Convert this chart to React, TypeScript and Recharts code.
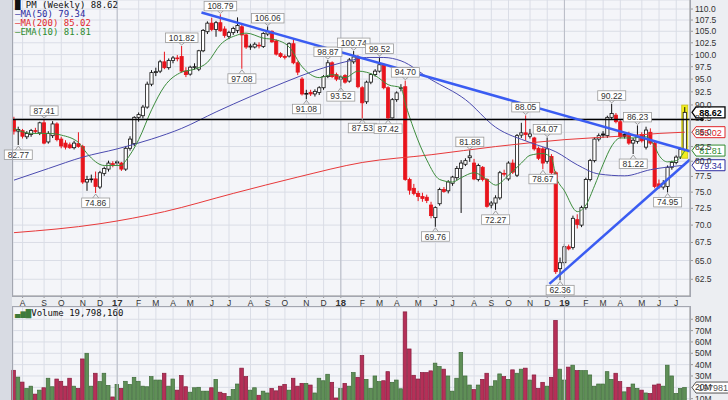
import React from "react";
import {
  ComposedChart,
  Bar,
  Line,
  Scatter,
  XAxis,
  YAxis,
  CartesianGrid,
  ReferenceLine,
} from "recharts";

// weekly candles, Jul 2016 -> Jul 2019: [open, high, low, close]
const candles: [number, number, number, number][] = [
  [87.3, 87.8, 84.6, 85.2], [85.2, 86.0, 82.77, 85.5], [85.3, 85.6, 83.9, 84.3], [84.2, 85.2, 83.8, 84.8],
  [84.6, 85.6, 84.2, 85.3], [85.3, 85.8, 84.8, 85.2], [84.9, 86.9, 84.5, 86.7], [86.7, 87.41, 82.9, 83.1],
  [83.3, 85.2, 83.0, 84.8], [84.4, 87.0, 84.0, 86.5], [86.5, 86.8, 83.4, 83.7], [83.8, 84.2, 82.2, 82.6],
  [83.1, 83.6, 82.0, 82.4], [82.8, 83.2, 82.1, 82.3], [82.3, 83.5, 82.0, 83.1], [83.0, 85.0, 82.3, 82.5],
  [82.5, 82.8, 76.3, 76.6], [76.6, 77.6, 75.2, 77.0], [77.0, 77.8, 76.5, 77.1], [77.1, 78.3, 74.86, 75.9],
  [75.8, 78.4, 75.5, 78.1], [78.0, 79.1, 77.6, 78.8], [78.7, 80.1, 78.3, 79.7], [79.6, 80.0, 79.0, 79.5],
  [79.9, 80.2, 79.3, 79.7], [79.7, 79.9, 78.4, 78.7], [78.7, 82.6, 78.4, 82.2], [82.2, 84.3, 81.8, 83.8],
  [83.0, 87.9, 82.6, 87.7], [87.7, 88.6, 86.9, 88.2], [88.0, 90.0, 87.5, 89.6], [89.6, 94.5, 89.3, 94.0],
  [94.0, 96.8, 93.6, 96.3], [96.3, 97.3, 95.6, 96.5], [96.6, 98.9, 96.2, 98.5], [98.5, 100.6, 97.0, 97.3],
  [97.3, 99.2, 96.9, 98.8], [98.8, 99.7, 98.2, 99.3], [99.3, 99.9, 98.6, 99.2], [99.6, 101.82, 96.3, 96.6],
  [96.6, 97.4, 95.4, 95.9], [96.0, 97.7, 95.7, 97.4], [97.4, 98.2, 96.9, 97.5], [97.0, 101.0, 96.6, 100.8],
  [100.8, 105.5, 100.5, 105.2], [104.9, 107.2, 104.4, 106.8], [106.8, 108.0, 105.0, 105.4], [105.4, 107.3, 103.8, 106.9],
  [106.9, 108.79, 104.9, 105.1], [105.5, 106.1, 103.6, 104.1], [103.9, 105.1, 103.3, 104.7], [104.7, 106.0, 104.2, 105.6],
  [105.2, 108.1, 104.6, 106.3], [106.0, 106.8, 97.08, 104.2], [104.2, 104.5, 101.2, 101.6], [101.6, 102.3, 101.0, 101.8],
  [101.6, 102.6, 101.3, 102.2], [102.0, 102.6, 101.3, 101.9], [101.7, 104.8, 101.4, 104.5], [104.4, 106.06, 104.0, 105.0],
  [105.0, 105.2, 102.5, 102.7], [102.9, 103.2, 99.8, 100.1], [100.2, 100.5, 99.3, 99.6], [99.6, 100.0, 99.0, 99.5],
  [99.7, 102.6, 99.4, 102.3], [102.3, 103.4, 98.0, 98.3], [98.3, 98.6, 95.8, 96.4], [95.0, 95.4, 91.8, 92.1],
  [92.1, 92.9, 91.08, 92.2], [92.4, 92.9, 91.7, 92.1], [92.1, 93.0, 91.6, 92.6], [92.4, 93.6, 91.9, 93.3],
  [93.3, 95.8, 92.9, 95.5], [95.5, 98.87, 95.2, 98.3], [98.3, 98.6, 95.2, 95.5], [95.9, 96.3, 94.6, 95.0],
  [95.0, 95.8, 93.52, 95.4], [95.7, 96.0, 94.1, 94.4], [94.6, 99.3, 94.3, 98.9], [98.5, 100.74, 98.1, 99.5],
  [99.5, 99.9, 93.2, 93.5], [93.3, 93.6, 87.53, 90.4], [90.6, 94.7, 90.2, 94.4], [94.4, 96.2, 94.0, 95.9],
  [95.9, 97.0, 95.5, 96.6], [96.6, 99.52, 96.3, 97.9], [97.9, 98.2, 93.0, 93.3], [93.3, 93.6, 87.42, 87.6],
  [87.6, 91.3, 87.5, 91.0], [91.0, 92.6, 90.6, 92.3], [93.2, 94.0, 92.6, 93.3], [93.5, 94.7, 76.8, 77.0],
  [77.0, 77.3, 74.6, 75.3], [75.6, 76.3, 74.5, 74.8], [74.8, 75.2, 73.6, 74.3], [74.3, 74.9, 73.5, 74.0],
  [74.2, 74.6, 73.3, 73.7], [73.0, 73.5, 71.0, 71.4], [71.1, 72.8, 69.76, 72.6], [73.2, 75.7, 72.9, 75.4],
  [75.4, 75.8, 74.9, 75.1], [75.2, 76.9, 74.8, 76.6], [76.4, 77.6, 76.0, 77.4], [77.3, 79.2, 76.9, 78.8],
  [78.8, 80.2, 71.8, 79.7], [79.5, 80.5, 79.2, 80.1], [80.6, 81.88, 79.9, 80.9], [79.7, 80.4, 76.9, 77.1],
  [77.0, 79.6, 76.7, 79.3], [79.0, 79.2, 76.7, 77.0], [77.0, 77.2, 72.6, 72.8], [73.0, 73.6, 72.5, 73.3],
  [73.3, 74.5, 72.27, 74.1], [74.1, 78.4, 73.8, 78.1], [78.0, 78.6, 77.5, 77.9], [77.1, 80.0, 76.8, 79.7],
  [79.7, 80.3, 77.9, 78.2], [77.7, 84.7, 77.4, 84.4], [84.5, 86.7, 84.0, 84.9], [84.9, 88.05, 83.5, 84.6],
  [84.3, 85.6, 83.9, 84.7], [84.0, 84.2, 81.8, 82.1], [82.2, 82.5, 80.2, 80.5], [82.1, 82.4, 78.67, 79.7],
  [80.0, 84.07, 79.6, 82.1], [80.8, 81.2, 77.7, 78.1], [78.1, 78.4, 63.2, 63.5], [63.9, 65.4, 62.36, 64.7],
  [64.7, 67.3, 64.3, 66.9], [66.9, 67.2, 66.4, 66.6], [66.8, 71.4, 66.5, 71.0], [70.8, 71.6, 69.5, 70.1],
  [70.0, 72.9, 69.7, 72.6], [72.6, 77.3, 72.3, 77.0], [77.0, 80.4, 76.7, 80.1], [80.1, 84.1, 79.8, 83.8],
  [83.8, 84.8, 83.4, 84.4], [84.7, 85.2, 84.0, 84.5], [84.4, 88.0, 84.0, 87.7], [87.7, 90.22, 87.3, 88.4],
  [88.1, 88.5, 86.6, 86.9], [86.9, 87.2, 83.9, 84.2], [84.6, 85.0, 83.9, 84.3], [84.8, 85.1, 82.8, 83.1],
  [83.1, 84.0, 81.22, 83.6], [83.4, 86.23, 83.0, 84.2], [84.6, 85.0, 83.2, 83.5], [82.4, 86.0, 82.0, 85.4],
  [85.0, 85.7, 82.8, 83.1], [83.1, 83.4, 75.6, 75.9], [76.3, 77.0, 75.5, 75.8], [75.8, 76.9, 75.4, 76.4],
  [75.9, 79.3, 74.95, 79.0], [79.0, 80.1, 78.6, 79.8], [79.8, 81.0, 79.5, 80.7], [80.7, 82.3, 80.4, 82.0],
  [82.0, 89.6, 81.7, 88.62],
];

// weekly volume, millions of shares
const volumes = [
  35, 29, 24.6, 19, 21, 14, 17.5, 19.6, 28, 20.5, 27.3, 25.3, 21, 28, 21, 19, 45, 50, 21, 32.4,
  25, 32.4, 21.7, 11.5, 22.6, 19, 25.3, 22.6, 28.8, 25.3, 21, 20.5, 29.4, 26.4, 26.4, 32.4, 21, 27.3, 17.5, 30.3,
  20.5, 15.7, 19.6, 20, 16.6, 16.6, 19.6, 27, 15.7, 14.5, 12, 18, 22.9, 36.9, 29.4, 17.5, 19.6, 13, 16.6, 15,
  19, 16.9, 21, 22.6, 17.5, 28, 21, 23.5, 23.5, 22, 15, 28, 25.8, 31.5, 24.4, 10.6, 19, 23.5, 21, 33,
  28.8, 48, 27, 19, 30, 25, 25.8, 33.8, 24.4, 26.4, 18.7, 86.5, 53.8, 30.6, 27.3, 33, 33, 34.5, 41.3, 38.3,
  36, 30, 16.6, 28, 50.8, 30, 22, 18, 22, 27, 32.4, 21, 25.8, 31.8, 29.4, 27, 35.4, 32.4, 36, 36.9,
  26.4, 30.9, 19, 24.4, 21, 28.8, 79, 36, 26.4, 37.8, 39.5, 34.7, 34.7, 34.7, 30.9, 21, 22.9, 22.9, 33.8, 27,
  32.4, 25, 16, 20, 22.9, 19, 17.5, 15, 14.5, 22, 22.9, 21, 39.5, 30, 14.5, 19, 19.8,
];

// indicator lines, sampled off the chart: [week, value]
const ma50: [number, number][] = [
  [0, 76.9], [8, 78.8], [16, 80.7], [24, 82.1], [32, 83.8], [39, 85.7], [47, 88.7], [55, 91.6], [63, 94.4],
  [70, 96.7], [78, 98.7], [82, 99.4], [86, 99.4], [90, 98.7], [97, 94.9], [105, 91], [112, 85.9], [120, 83.2],
  [126, 81.6], [131, 79.4], [136, 77.9], [142, 77.6], [148, 78.6], [156, 79.34],
];
const ma200: [number, number][] = [
  [0, 68.9], [20, 70.2], [35, 72], [51, 74.8], [66, 77.4], [81, 79.8], [97, 81.1], [112, 82.5], [128, 83.7],
  [143, 84.4], [150, 84.8], [156, 85.02],
];
const ema10: [number, number][] = [
  [0, 85.7], [4, 84.8], [8, 84.8], [11, 84.5], [15, 83.2], [17, 81.3], [21, 79.3], [25, 79.3], [26, 80.1],
  [29, 83.7], [32, 89.1], [35, 93.6], [39, 96.4], [42, 97], [45, 98.4], [48, 102.1], [52, 104.2], [54, 104.6],
  [58, 103.5], [61, 103.1], [64, 101.6], [67, 97.5], [71, 95.3], [74, 95.9], [77, 95.3], [80, 96.6], [84, 95.7],
  [87, 93.9], [90, 93.3], [91, 90.3], [93, 85.5], [96, 80.2], [99, 77], [102, 76.6], [104, 77.3], [107, 78.1],
  [110, 77], [112, 76.1], [115, 77.7], [118, 79.7], [120, 81], [123, 81.3], [125, 80.5], [126, 77.6], [128, 75.2],
  [131, 72.0], [133, 73.0], [135, 76.0], [137, 79.5], [139, 82.6], [141, 84], [144, 84], [147, 84.2], [149, 82.5],
  [150, 81.0], [152, 79.9], [154, 80.1], [156, 81.81],
];
const downTrend: [number, number][] = [[43.6, 109.2], [157.2, 81.7]];
const upTrend: [number, number][] = [[124.5, 61.9], [157.2, 80.3]];
const resistance = 87.3;

// swing high / low markers: [week, price, kind]
const pivots: [number, number, "h" | "l"][] = [
  [1, 82.77, "l"], [7, 87.41, "h"], [19, 74.86, "l"], [39, 101.82, "h"], [48, 108.79, "h"], [53, 97.08, "l"],
  [59, 106.06, "h"], [68, 91.08, "l"], [73, 98.87, "h"], [76, 93.52, "l"], [79, 100.74, "h"], [81, 87.53, "l"],
  [85, 99.52, "h"], [87, 87.42, "l"], [91, 94.7, "h"], [98, 69.76, "l"], [106, 81.88, "h"], [112, 72.27, "l"],
  [119, 88.05, "h"], [123, 78.67, "l"], [124, 84.07, "h"], [127, 62.36, "l"], [139, 90.22, "h"], [144, 81.22, "l"],
  [145, 86.23, "h"], [152, 74.95, "l"],
];

const monthWeeks = [2, 7, 11, 16, 20, 24, 29, 33, 37, 41, 46, 50, 55, 59, 63, 68, 72, 76, 81, 85, 89, 94, 98, 102,
  107, 111, 115, 120, 124, 128, 133, 137, 141, 146, 150, 154];
const monthLabels = ["A", "S", "O", "N", "D", "17", "F", "M", "A", "M", "J", "J", "A", "S", "O", "N", "D", "18",
  "F", "M", "A", "M", "J", "J", "A", "S", "O", "N", "D", "19", "F", "M", "A", "M", "J", "J"];
const yearWeeks = [24, 76, 128];

const priceTicks = [62.5, 65, 67.5, 70, 72.5, 75, 77.5, 80, 82.5, 85, 87.5, 90, 92.5, 95, 97.5, 100, 102.5, 105, 107.5, 110];
const volumeTicks = [10, 20, 30, 40, 50, 60, 70, 80];
const lastVolume = 19798160;

const LAST = candles.length - 1;
const lastClose = candles[LAST][3];
const ma50Last = ma50[ma50.length - 1][1];
const ma200Last = ma200[ma200.length - 1][1];
const emaLast = ema10[ema10.length - 1][1];

const priceRows = candles.map(([o, h, l, c], i) => ({
  i, o, h, l, c,
  prev: i > 0 ? candles[i - 1][3] : o,
  range: [l, h],
}));
const volRows = volumes.map((v, i) => ({ i, vol: v, up: priceRows[i].c >= priceRows[i].prev }));
const pts = (a: [number, number][]) => a.map(([i, v]) => ({ i, v }));
const pivotRows = pivots.map(([i, v, k]) => ({ i, v, k }));

const FONT = "'Liberation Sans', Arial, sans-serif";
const MONO = "'DejaVu Sans Mono', monospace";
const X_DOMAIN: [number, number] = [-0.23, 157.2];

function Candle(props: any) {
  const { x, y, width, height, payload } = props;
  if (!payload || x == null || y == null) return null;
  const { o, h, l, c, prev, i } = payload;
  const cx = x + width / 2;
  const top = Math.min(y, y + height);
  const span = Math.abs(height);
  const lh = Math.log(h);
  const ll = Math.log(l);
  const py = (p: number) => (lh === ll ? top : top + ((lh - Math.log(p)) / (lh - ll)) * span);
  const col = c >= prev ? "#111" : "#e8141c";
  const hollow = c >= o;
  const bTop = py(Math.max(o, c));
  const bBot = py(Math.min(o, c));
  return (
    <g>
      {i === LAST && (
        <rect x={cx - 3} y={top - 2} width={6} height={span + 9} fill="#f2ee1e" stroke="#c9c018" strokeWidth={0.8} />
      )}
      <line x1={cx} x2={cx} y1={top} y2={top + span} stroke={col} strokeWidth={1} />
      <rect
        x={cx - 1.6}
        y={bTop}
        width={3.2}
        height={Math.max(bBot - bTop, 0.8)}
        fill={hollow ? "#fff" : col}
        stroke={col}
        strokeWidth={0.8}
      />
    </g>
  );
}

function PivotTag(props: any) {
  const { cx, cy, payload } = props;
  if (cx == null || cy == null) return null;
  const txt = payload.v.toFixed(2);
  const w = txt.length * 4.6 + 5;
  const above = payload.k === "h";
  const by = above ? cy - 13 : cy + 5;
  const tipY = above ? cy - 1 : cy + 1;
  const baseY = above ? by + 9.5 : by;
  return (
    <g>
      <polyline
        points={`${cx - 3},${baseY} ${cx},${tipY} ${cx + 3},${baseY}`}
        fill="none"
        stroke="#8a8a8a"
        strokeWidth={0.8}
      />
      <rect x={cx - w / 2} y={by} width={w} height={9.5} fill="#fff" stroke="#9a9a9a" strokeWidth={0.8} />
      <text x={cx} y={by + 7.8} textAnchor="middle" fontSize={8.5} fontFamily={FONT} fill="#333">
        {txt}
      </text>
    </g>
  );
}

function ValueTag(props: any) {
  const { viewBox, text, color, bold, dot } = props;
  if (!viewBox) return null;
  const x = viewBox.x + viewBox.width + 2;
  const y = viewBox.y;
  const w = text ? Math.max(33, text.length * 5 + 8) : 0;
  return (
    <g>
      {dot && (
        <>
          <line x1={viewBox.x + viewBox.width} x2={viewBox.x + viewBox.width + 12} y1={y} y2={y} stroke="#000" strokeWidth={1.5} />
          <circle cx={viewBox.x + viewBox.width + 12} cy={y} r={1.8} fill="#000" />
        </>
      )}
      {text && (
        <>
          <polygon
            points={`${x},${y} ${x + 4},${y - 5.5} ${x + w},${y - 5.5} ${x + w},${y + 5.5} ${x + 4},${y + 5.5}`}
            fill="#fff"
            stroke={color}
            strokeWidth={bold ? 1.3 : 1}
          />
          <text x={x + 4 + (w - 4) / 2} y={y + 3.5} textAnchor="middle" fontSize={9} fontWeight={bold ? 700 : 400} fontFamily={FONT} fill={color}>
            {text}
          </text>
        </>
      )}
    </g>
  );
}

function MonthTick(props: any) {
  const { x, y, payload } = props;
  const idx = monthWeeks.indexOf(payload.value);
  const label = monthLabels[idx] ?? "";
  const isYear = /\d/.test(label);
  return (
    <text x={x} y={y + 6} textAnchor="middle" fontSize={isYear ? 9.5 : 8.5} fontWeight={isYear ? 700 : 400} fontFamily={FONT} fill="#333">
      {label}
    </text>
  );
}

function VolBar(props: any) {
  const { x, y, width, height, payload } = props;
  if (x == null || !payload) return null;
  const up = payload.up;
  return (
    <rect
      x={x}
      y={y}
      width={width}
      height={Math.max(height, 0)}
      fill={up ? "#5f8f57" : "#b53058"}
      stroke={up ? "#3f6b3a" : "#861c3c"}
      strokeWidth={0.7}
    />
  );
}

export default function App() {
  const legendLine = (color: string, text: string, top: number) => (
    <div style={{ position: "absolute", left: 15, top, color, fontFamily: MONO, fontSize: 9, lineHeight: "9px", whiteSpace: "pre" }}>
      {"\u2014" + text}
    </div>
  );
  return (
    <div style={{ position: "absolute", left: 0, top: 0, width: 728, height: 400, overflow: "hidden", background: "#eceef2" }}>
      <div style={{ position: "absolute", left: 0, top: 0, width: 12, height: 400, background: "#d8dbe3" }} />

      <div style={{ position: "absolute", left: 0, top: 0 }}>
        <ComposedChart width={728} height={312} data={priceRows} margin={{ top: 0, right: 0, bottom: 0, left: 13 }}>
          <CartesianGrid stroke="#dadde6" fill="#f4f5f9" strokeWidth={1} />
          <XAxis
            dataKey="i"
            type="number"
            domain={X_DOMAIN}
            ticks={monthWeeks}
            interval={0}
            height={16}
            tick={<MonthTick />}
            tickSize={2}
            stroke="#999"
          />
          <YAxis
            orientation="right"
            scale="log"
            domain={[60.35, 112.1]}
            ticks={priceTicks}
            interval={0}
            width={38}
            tickSize={3}
            tickFormatter={(v: number) => v.toFixed(1)}
            tick={{ fontSize: 8.5, fill: "#333", fontFamily: FONT }}
            stroke="#999"
          />
          {yearWeeks.map((w) => (
            <ReferenceLine key={w} x={w} stroke="#b9bcc6" strokeWidth={1} />
          ))}
          <Line data={pts(ma200)} dataKey="v" type="monotone" stroke="#e8393a" strokeWidth={1} dot={false} isAnimationActive={false} />
          <Line data={pts(ma50)} dataKey="v" type="monotone" stroke="#4b4bb0" strokeWidth={1} dot={false} isAnimationActive={false} />
          <Line data={pts(ema10)} dataKey="v" type="monotone" stroke="#3c8c3c" strokeWidth={1} dot={false} isAnimationActive={false} />
          <ReferenceLine y={resistance} stroke="#000" strokeWidth={1.5} label={<ValueTag dot />} />
          <Bar dataKey="range" barSize={4} shape={<Candle />} isAnimationActive={false} />
          <Line data={pts(downTrend)} dataKey="v" type="linear" stroke="#3a5cf2" strokeWidth={2.5} dot={false} isAnimationActive={false} />
          <Line data={pts(upTrend)} dataKey="v" type="linear" stroke="#3a5cf2" strokeWidth={2.5} dot={false} isAnimationActive={false} />
          <Scatter data={pivotRows} dataKey="v" shape={<PivotTag />} isAnimationActive={false} />
          <ReferenceLine y={ma200Last} stroke="none" label={<ValueTag text={ma200Last.toFixed(2)} color="#e0262a" />} />
          <ReferenceLine y={emaLast} stroke="none" label={<ValueTag text={emaLast.toFixed(2)} color="#2e8b2e" />} />
          <ReferenceLine y={ma50Last} stroke="none" label={<ValueTag text={ma50Last.toFixed(2)} color="#2c2ca0" />} />
          <ReferenceLine y={lastClose} stroke="none" label={<ValueTag text={lastClose.toFixed(2)} color="#000" bold />} />
        </ComposedChart>
      </div>

      <div style={{ position: "absolute", left: 0, top: 307 }}>
        <ComposedChart width={728} height={103} data={volRows} margin={{ top: 0, right: 0, bottom: 0, left: 13 }}>
          <CartesianGrid stroke="#dadde6" fill="#f4f5f9" strokeWidth={1} />
          <XAxis dataKey="i" type="number" domain={X_DOMAIN} ticks={monthWeeks} interval={0} hide />
          <YAxis
            orientation="right"
            domain={[0, 90.8]}
            ticks={volumeTicks}
            interval={0}
            width={38}
            tickSize={3}
            tickFormatter={(v: number) => `${v}M`}
            tick={{ fontSize: 8.5, fill: "#333", fontFamily: FONT }}
            stroke="#999"
          />
          {yearWeeks.map((w) => (
            <ReferenceLine key={w} x={w} stroke="#b9bcc6" strokeWidth={1} />
          ))}
          <Bar dataKey="vol" barSize={3.6} shape={<VolBar />} isAnimationActive={false} />
          <ReferenceLine y={lastVolume / 1e6} stroke="none" label={<ValueTag text={String(lastVolume)} color="#555" />} />
        </ComposedChart>
      </div>

      {/* panel borders */}
      <div style={{ position: "absolute", left: 12, top: -1, width: 677, height: 296, border: "1px solid #a3a6b0", pointerEvents: "none" }} />
      <div style={{ position: "absolute", left: 12, top: 306, width: 677, height: 110, border: "1px solid #a3a6b0", pointerEvents: "none" }} />

      {/* legends */}
      <div style={{ position: "absolute", left: 15, top: 1, fontFamily: MONO, fontSize: 9, lineHeight: "9px", color: "#111", whiteSpace: "pre" }}>
        {"\u2588 PM (Weekly) " + lastClose.toFixed(2)}
      </div>
      {legendLine("#2c2ca0", `MA(50) ${ma50Last.toFixed(2)}`, 10)}
      {legendLine("#e0262a", `MA(200) ${ma200Last.toFixed(2)}`, 19)}
      {legendLine("#2e8b2e", `EMA(10) ${emaLast.toFixed(2)}`, 28)}
      <div style={{ position: "absolute", left: 15, top: 309, fontFamily: MONO, fontSize: 9, lineHeight: "9px", color: "#111", whiteSpace: "pre" }}>
        <span style={{ color: "#3f7a3a" }}>{"\u2583\u2585\u2587"}</span>
        {"Volume " + lastVolume.toLocaleString("en-US")}
      </div>
    </div>
  );
}
